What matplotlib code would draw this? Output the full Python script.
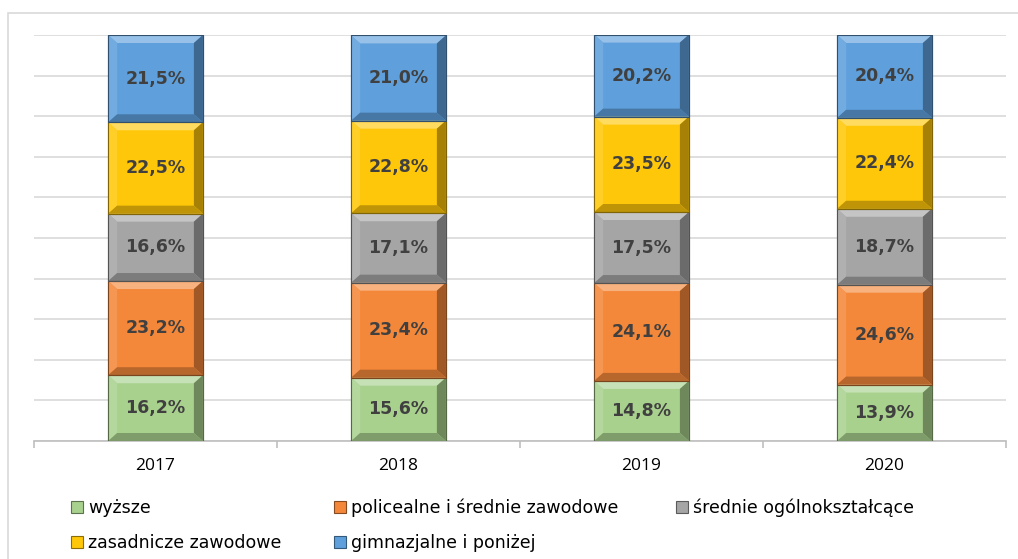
import matplotlib
matplotlib.use("Agg")
import matplotlib.pyplot as plt
import numpy as np
from matplotlib.patches import Polygon, Rectangle
from matplotlib.colors import to_rgb

years = ["2017", "2018", "2019", "2020"]
series_names = ["wyższe", "policealne i średnie zawodowe", "średnie ogólnokształcące",
                "zasadnicze zawodowe", "gimnazjalne i poniżej"]
wyzsze = [16.2, 15.6, 14.8, 13.9]
policealne = [23.2, 23.4, 24.1, 24.6]
srednie_ogolne = [16.6, 17.1, 17.5, 18.7]
zasadnicze = [22.5, 22.8, 23.5, 22.4]
gimnazjalne = [21.5, 21.0, 20.2, 20.4]
series_values = [wyzsze, policealne, srednie_ogolne, zasadnicze, gimnazjalne]
colors = ["#A9D18E", "#F4883A", "#A5A5A5", "#FFC709", "#5FA0DC"]

W, H = 1018, 559
fig = plt.figure(figsize=(W / 100, H / 100), dpi=100)
fig.patch.set_facecolor("white")
# outer chart border
fig.patches.append(Rectangle((8 / W, 1 - 560 / H), 1.2, (560 - 13) / H, transform=fig.transFigure,
                             fill=False, edgecolor="#D9D9D9", lw=1.2))

ax = fig.add_axes([34 / W, (H - 441) / H, 972 / W, 406 / H])
x = np.arange(len(years))
bar_w = 0.39


def shade(c, f):
    r, g, b = to_rgb(c)
    if f >= 0:
        return (r + (1 - r) * f, g + (1 - g) * f, b + (1 - b) * f)
    return (r * (1 + f), g * (1 + f), b * (1 + f))


# pixel -> data scale for bevel insets
px_x = 4.0 / 972
px_y = 1.0 / 406
ix, iy = 9 * px_x, 8 * px_y

bottom = np.zeros(len(years))
for name, vals, col in zip(series_names, series_values, colors):
    fr = np.array(vals) / 100.0
    rects = ax.bar(x, fr, bar_w, bottom=bottom, color=col, edgecolor=shade(col, -0.45),
                   linewidth=0.8, zorder=3, label=name)
    for r in rects:
        x0, y0 = r.get_x(), r.get_y()
        x1, y1 = x0 + r.get_width(), y0 + r.get_height()
        top = Polygon([(x0, y1), (x1, y1), (x1 - ix, y1 - iy), (x0 + ix, y1 - iy)],
                      closed=True, facecolor=shade(col, 0.35), edgecolor="none", zorder=4)
        left = Polygon([(x0, y0), (x0, y1), (x0 + ix, y1 - iy), (x0 + ix, y0 + iy)],
                       closed=True, facecolor=shade(col, 0.12), edgecolor="none", zorder=4)
        right = Polygon([(x1, y0), (x1, y1), (x1 - ix, y1 - iy), (x1 - ix, y0 + iy)],
                        closed=True, facecolor=shade(col, -0.35), edgecolor="none", zorder=4)
        bot = Polygon([(x0, y0), (x1, y0), (x1 - ix, y0 + iy), (x0 + ix, y0 + iy)],
                      closed=True, facecolor=shade(col, -0.25), edgecolor="none", zorder=4)
        for p in (top, left, right, bot):
            ax.add_patch(p)
        outline = Rectangle((x0, y0), x1 - x0, y1 - y0, fill=False,
                            edgecolor=shade(col, -0.5), lw=0.8, zorder=5)
        ax.add_patch(outline)
    for xi, yb, v in zip(x, bottom, fr):
        ax.text(xi, yb + v / 2, f"{v*100:.1f}%".replace(".", ","), ha="center", va="center",
                fontsize=12.5, fontweight="bold", color="#404040", family="DejaVu Sans", zorder=6)
    bottom += fr

ax.set_xlim(-0.5, 3.5)
ax.set_ylim(0, 1.0)
ax.set_yticks(np.arange(0, 1.01, 0.1))
ax.set_yticklabels([])
ax.tick_params(axis="y", length=0)
ax.grid(axis="y", color="#D9D9D9", lw=1.2, zorder=0)
ax.set_axisbelow(True)
ax.set_xticks(x)
ax.set_xticklabels(years, fontsize=12.5, family="Open Sans", color="#000000")
ax.set_xticks(np.arange(-0.5, 3.6, 1.0), minor=True)
ax.tick_params(axis="x", which="major", length=0, pad=12)
ax.tick_params(axis="x", which="minor", length=5, color="#BFBFBF", width=1.2)
for s in ["top", "right", "left"]:
    ax.spines[s].set_visible(False)
ax.spines["bottom"].set_color("#BFBFBF")
ax.spines["bottom"].set_linewidth(1.2)

# legend entries placed in Excel-like layout
handles, labels = ax.get_legend_handles_labels()
positions = [(71, 508), (334, 508), (676, 508), (71, 543), (334, 543)]
for h, l, (px, py) in zip(handles, labels, positions):
    fig.legend([h], [l], loc="center left", bbox_to_anchor=(px / W, 1 - py / H),
               frameon=False, handlelength=0.7, handleheight=0.7,
               handletextpad=0.3, borderpad=0, borderaxespad=0,
               prop={"family": "DejaVu Sans", "size": 12.5})

fig.savefig("out.png", dpi=100)
